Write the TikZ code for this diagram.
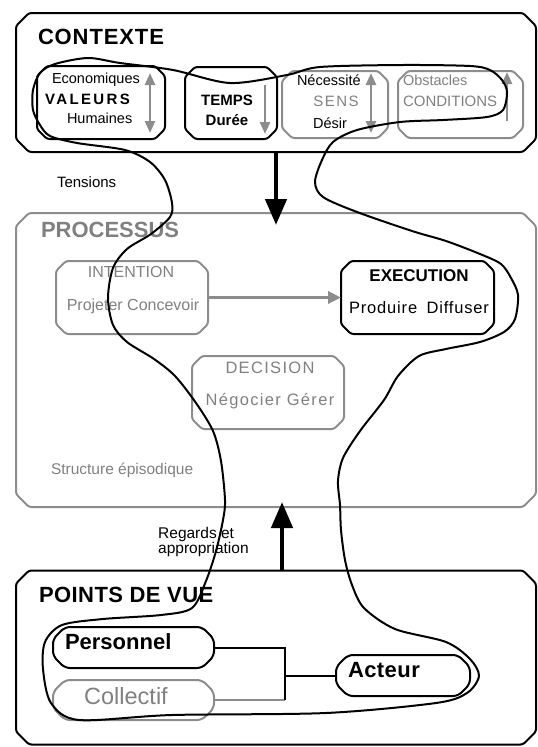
\documentclass[tikz,border=0pt]{standalone}
\usepackage{fontspec}
\setmainfont{Liberation Sans}
\usetikzlibrary{arrows.meta}
\definecolor{gr}{RGB}{128,128,128}
\definecolor{grbox}{RGB}{140,140,140}
% chamfered outline round a (rectangular, undrawn) node
\newcommand\chb[3][]{\draw[boxline,#1] ([xshift=#3]#2.north west) -- ([xshift=-#3]#2.north east)
  -- ([yshift=-#3]#2.north east) -- ([yshift=#3]#2.south east) -- ([xshift=-#3]#2.south east)
  -- ([xshift=#3]#2.south west) -- ([yshift=#3]#2.south west) -- ([yshift=-#3]#2.north west) -- cycle;}
\begin{document}
\begin{tikzpicture}[x=1pt,y=-1pt,
  area/.style={rectangle, inner sep=0pt, outer sep=0pt},
  boxline/.style={line width=2pt, rounded corners=2.5pt},
  blk/.style={draw=black},
  gry/.style={draw=grbox},
  txt/.style={inner sep=0pt, outer sep=0pt, anchor=mid west},
  txc/.style={inner sep=0pt, outer sep=0pt, anchor=mid},
  fs/.style={font=\fontsize{#1}{#1}\selectfont},
  fb/.style={font=\fontsize{#1}{#1}\selectfont\bfseries},
  small arrow/.style={grbox, line width=2.5pt, -{Triangle[width=10pt,length=12pt]}},
  small darrow/.style={grbox, line width=2.5pt, {Triangle[width=10pt,length=12pt]}-{Triangle[width=10pt,length=12pt]}},
  big arrow/.style={black, line width=4.5pt, -{Triangle[width=21pt,length=26pt]}},
  loop/.style={black, line width=2pt}
]
\useasboundingbox (0,0) rectangle (538,747);

% ---- main boxes
\node[area, minimum width=520pt, minimum height=139pt] (ctx) at (276,82.5) {};
\node[area, minimum width=520pt, minimum height=294pt] (proc) at (276,360) {};
\node[area, minimum width=520pt, minimum height=174pt] (pdv) at (276,657.5) {};
\chb[blk]{ctx}{13pt}
\chb[gry]{proc}{13pt}
\chb[blk]{pdv}{13pt}

% ---- CONTEXTE
\node[txt, fb=22] (tctx) at (38,42) {\addfontfeature{LetterSpace=4}CONTEXTE};
\node[area, minimum width=128pt, minimum height=73pt] (val) at (101,102.5) {};
\node[area, minimum width=92pt, minimum height=72pt] (tmp) at (231,103) {};
\node[area, minimum width=106pt, minimum height=67pt] (sens) at (335,104.5) {};
\node[area, minimum width=125pt, minimum height=67pt] (cond) at (460.5,104.5) {};
\chb[blk]{val}{10pt}
\chb[blk]{tmp}{10pt}
\chb[gry]{sens}{10pt}
\chb[gry]{cond}{10pt}

\node[txt, fs=14.5] (eco) at (52,81) {Economiques};
\node[txt, fb=15] (tval) at (45,102) {\addfontfeature{LetterSpace=16}VALEURS};
\node[txt, fs=14.5] (hum) at (67,121) {Humaines};
\draw[small darrow] (150,73) -- (150,133);

\node[txc, fb=15] (ttmp) at (227,103) {TEMPS};
\node[txc, fb=15] (dur) at (227,123) {Durée};
\draw[small arrow] (265,85) -- (265,134);

\node[txt, fs=14.5] (nec) at (297,83) {Nécessité};
\node[txc, fs=15, text=gr] (tsens) at (336,104) {\addfontfeature{LetterSpace=10}SENS};
\node[txc, fs=14.5] (des) at (330,126) {Désir};
\draw[small darrow] (371,73) -- (371,133);

\node[txt, fs=14.5, text=gr] (obs) at (403,83) {Obstacles};
\node[txt, fs=15, text=gr] (tcond) at (403,104) {CONDITIONS};
\draw[small arrow] (507,121) -- (507,72);

% ---- arrow CONTEXTE -> PROCESSUS
\coordinate (dtip) at (276,225);
\draw[big arrow] (ctx.south) -- (dtip);
\node[txt, fs=15] (tens) at (57,185) {Tensions};

% ---- PROCESSUS
\node[txt, fb=22, text=gr] (tproc) at (41,235) {PROCESSUS};
\node[area, minimum width=152pt, minimum height=73pt] (int) at (132,297.5) {};
\node[area, minimum width=153pt, minimum height=73pt] (exe) at (417.5,297.5) {};
\node[area, minimum width=152pt, minimum height=73pt] (dec) at (268,392.5) {};
\chb[gry]{int}{10pt}
\chb[blk]{exe}{10pt}
\chb[gry]{dec}{10pt}
\node[txc, fs=16, text=gr] (tint) at (131,275) {INTENTION};
\node[txc, fs=16, text=gr] (pc) at (133,308) {Projeter Concevoir};
\node[txc, fb=17] (texe) at (419,279) {EXECUTION};
\node[txc, fs=16.5] (pd) at (419,311) {\addfontfeature{LetterSpace=5}Produire\hspace{4pt} Diffuser};
\node[txc, fs=16.5, text=gr] (tdec) at (270,371) {\addfontfeature{LetterSpace=8}DECISION};
\node[txc, fs=16.5, text=gr] (ng) at (270,403) {\addfontfeature{LetterSpace=8}Négocier Gérer};
\node[txt, fs=15.5, text=gr] (se) at (51,472) {Structure épisodique};
\draw[grbox, line width=3.5pt, -{Triangle[width=12pt,length=13pt]}] (int.east) -- (exe.west);

% ---- arrow POINTS DE VUE -> PROCESSUS
\coordinate (utip) at (282,502);
\draw[big arrow] ([xshift=6pt]pdv.north) -- (utip);
\node[inner sep=0pt, anchor=north west, align=left, font=\fontsize{15.5}{15}\selectfont] (reg) at (158,527) {Regards et\\appropriation};

% ---- POINTS DE VUE
\node[txt, fb=22] (tpdv) at (39,600) {\addfontfeature{LetterSpace=2}POINTS DE VUE};
\node[area, minimum width=161pt, minimum height=41pt] (pers) at (133.5,647.5) {};
\node[area, minimum width=161pt, minimum height=40pt] (coll) at (133.5,700) {};
\node[area, minimum width=134pt, minimum height=41pt] (act) at (403,675.5) {};
\chb[blk, rounded corners=5pt]{pers}{12pt}
\chb[gry, rounded corners=5pt]{coll}{12pt}
\chb[blk, rounded corners=5pt]{act}{12pt}
\node[txt, fb=22] (tpers) at (65,647) {Personnel};
\node[txc, fs=23.5, text=gr] (tcoll) at (126,702) {Collectif};
\node[txt, fb=22] (tact) at (348,675) {\addfontfeature{LetterSpace=2}Acteur};
\coordinate (jn) at (285,675.5);
\draw[grbox, line width=2pt] (coll.east) -- (coll.east -| jn);
\draw[black, line width=2pt] (pers.east) -- (pers.east -| jn) -- (coll.east -| jn);
\draw[black, line width=2pt] (jn) -- (act.west);

% ---- freehand loop
\draw[loop] plot[smooth cycle, tension=0.5] coordinates {
(88,58) (120,63) (173,70) (230,83) (287,75) (320,67) (403,65) (470,66) (490,70) (502,80)
(507,92) (503,110) (487,117) (443,120) (400,122) (357,130) (333,142) (322,160) (315,182)
(323,197) (357,212) (412,231) (446,241) (480,254) (501,264) (511,278) (518,295) (515,319)
(504,332) (480,342) (446,349) (419,356) (398,376) (384,400) (360,431) (343,458) (338,481)
(340,505) (341,530) (345,560) (352,585) (364,608) (395,629) (446,642) (470,659) (479,676)
(467,693) (436,703) (326,713) (172,715) (79,720) (51,703) (43,669) (45,642) (62,625)
(103,619) (161,615) (192,608) (206,581) (216,551) (223,520) (225,500) (221,461) (213,431)
(196,403) (175,376) (154,359) (127,342) (113,325) (108,298) (113,268) (127,249) (151,234)
(170,217) (172,203) (165,180) (150,162) (125,150) (77,143) (50,136) (40,125) (33,110)
(33,90) (40,73) (55,64)};
\end{tikzpicture}
\end{document}
